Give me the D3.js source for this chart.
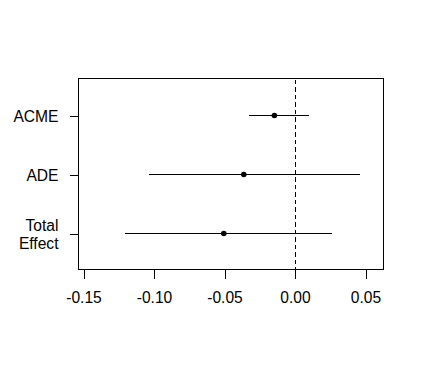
<!DOCTYPE html>
<html>
<head>
<meta charset="utf-8">
<script src="https://cdn.jsdelivr.net/npm/d3@7"></script>
<style>
  html, body { margin: 0; padding: 0; background: #fff; }
  svg { display: block; }
  text { font-family: "Liberation Sans", Arial, sans-serif; fill: #000; }
</style>
</head>
<body>
<svg id="chart" width="424" height="368"></svg>
<script>
// Data
const categories = ["ACME", "ADE", "Total Effect"];
const estimates = [-0.0146, -0.0363, -0.0505];
const lowerCI = [-0.0328, -0.1036, -0.1206];
const upperCI = [0.0097, 0.0463, 0.0265];
const xTicks = [-0.15, -0.10, -0.05, 0.00, 0.05];
const xTickLabels = ["-0.15", "-0.10", "-0.05", "0.00", "0.05"];

const svg = d3.select("#chart");
const box = { left: 78.5, right: 383.5, top: 78.5, bottom: 269.5 };

const x = d3.scaleLinear().domain([-0.15, 0.05]).range([83.5, 365.5]);
const y = d3.scalePoint().domain(categories).range([115.5, 233.5]);

// Box
svg.append("rect")
  .attr("x", box.left).attr("y", box.top)
  .attr("width", box.right - box.left).attr("height", box.bottom - box.top)
  .attr("fill", "none").attr("stroke", "#000").attr("stroke-width", 1)
  .attr("shape-rendering", "crispEdges");

// X axis
const xAxis = d3.axisBottom(x)
  .tickValues(xTicks)
  .tickFormat((d, i) => xTickLabels[i])
  .tickSize(9)
  .tickPadding(0)
  .tickSizeOuter(0);
const gx = svg.append("g").attr("transform", `translate(0,${box.bottom})`).call(xAxis);
gx.select(".domain").remove();
gx.selectAll(".tick line").attr("stroke", "#000").attr("shape-rendering", "crispEdges");
gx.selectAll(".tick text")
  .attr("y", 33.5).attr("dy", null)
  .style("font-size", "15.6px")
  .style("font-family", "'Liberation Sans', Arial, sans-serif")
  .attr("fill", "#000");

// Y axis ticks (labels drawn separately for multi-line)
const yAxis = d3.axisLeft(y).tickSize(9).tickFormat("").tickSizeOuter(0);
const gy = svg.append("g").attr("transform", `translate(${box.left},0)`).call(yAxis);
gy.select(".domain").remove();
gy.selectAll(".tick line").attr("stroke", "#000").attr("shape-rendering", "crispEdges");

// Y labels
const labelG = svg.append("g");
categories.forEach(c => {
  const words = c.split(" ");
  const n = words.length;
  const lh = 18.6;
  words.forEach((w, i) => {
    labelG.append("text")
      .attr("x", 58.5)
      .attr("y", y(c) + 6.5 + (i - (n - 1) / 2) * lh)
      .attr("text-anchor", "end")
      .style("font-size", "15.6px")
      .text(w);
  });
});

// Reference line at zero
svg.append("line")
  .attr("x1", x(0)).attr("x2", x(0))
  .attr("y1", box.top + 1).attr("y2", box.bottom)
  .attr("stroke", "#000").attr("stroke-width", 1)
  .attr("stroke-dasharray", "4.5,3")
  .attr("shape-rendering", "crispEdges");

// CI lines
const rows = categories.map((c, i) => ({ c, est: estimates[i], lo: lowerCI[i], hi: upperCI[i] }));
svg.selectAll("line.ci").data(rows).enter().append("line")
  .attr("class", "ci")
  .attr("x1", d => x(d.lo)).attr("x2", d => x(d.hi))
  .attr("y1", d => y(d.c)).attr("y2", d => y(d.c))
  .attr("stroke", "#000").attr("stroke-width", 1)
  .attr("shape-rendering", "crispEdges");

// Points
svg.selectAll("circle.pt").data(rows).enter().append("circle")
  .attr("class", "pt")
  .attr("cx", d => x(d.est)).attr("cy", d => y(d.c))
  .attr("r", 2.8).attr("fill", "#000");
</script>
</body>
</html>
